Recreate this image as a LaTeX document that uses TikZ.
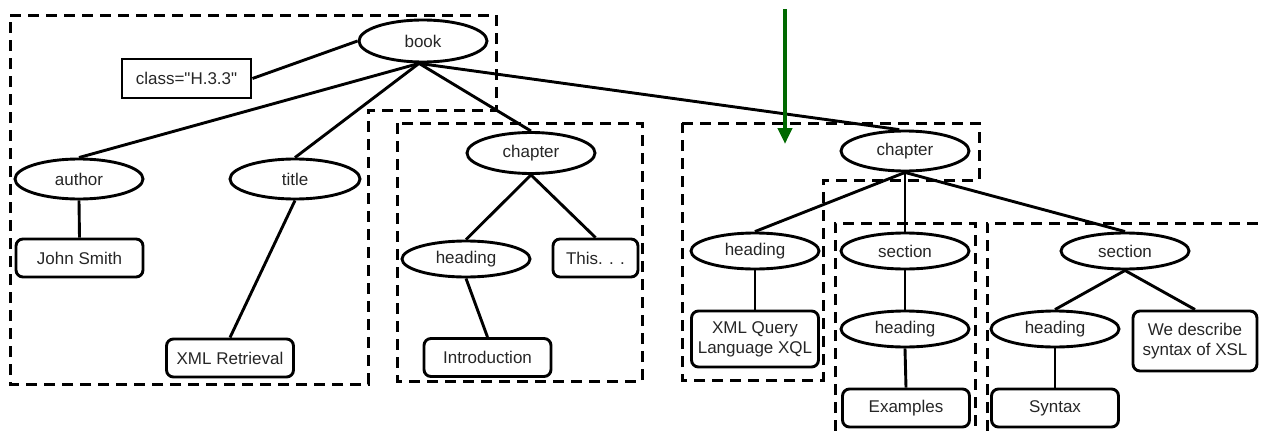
\documentclass[tikz,border=0pt]{standalone}
\usepackage{fontspec}
\setmainfont{Liberation Sans}[Ligatures=TeXOff]
\usetikzlibrary{shapes.geometric,arrows.meta}
\definecolor{arrowgreen}{RGB}{0,105,0}
\begin{document}
\begin{tikzpicture}[x=1pt,y=-1pt,
  every node/.style={font=\fontsize{17}{20}\selectfont, text=black!85, inner sep=0pt},
  elnode/.style={draw, ellipse, line width=2.9pt, minimum width=128pt, minimum height=38pt},
  leafbox/.style={draw, rounded corners=7pt, line width=2.9pt, minimum width=127pt, minimum height=38pt, align=center},
  attrbox/.style={draw, line width=2.9pt, minimum width=129pt, minimum height=39pt},
  treeline/.style={line width=2.9pt},
  zone/.style={line width=3pt, dash pattern=on 11pt off 7pt},
  greenarrow/.style={draw=arrowgreen, line width=4.5pt, -{Triangle[width=14pt,length=16pt,fill=arrowgreen]}}]
\useasboundingbox (0,0) rectangle (1261,431);

% dashed fragment regions
\draw[zone] (10,15) -- (496,15) -- (496,110) -- (368,110) -- (368,384) -- (10,384) -- cycle;
\draw[zone] (397,123) rectangle (642,381);
\draw[zone] (682,123) -- (979,123) -- (979,180) -- (823,180) -- (823,380) -- (682,380) -- cycle;
\draw[zone] (835,431) -- (835,223) -- (975,223) -- (975,431);
\draw[zone] (987,431) -- (987,223) -- (1261,223);

% book subtree
\node[elnode, minimum height=42pt] (book) at (423,41) {book};
\node[attrbox] (class) at (186.5,78.5) {class="H.3.3"};
\node[elnode, minimum height=40pt] (author) at (79,179) {author};
\node[elnode, minimum height=40pt, minimum width=130pt] (title) at (295,179) {title};
\node[leafbox] (john) at (79.5,258) {John Smith};
\node[leafbox] (xmlret) at (230,358) {XML Retrieval};

% first chapter
\node[elnode, minimum height=41pt] (chapA) at (531,153) {chapter};
\node[elnode, minimum height=36pt] (headA) at (466,259) {heading};
\node[leafbox, minimum width=85pt] (this) at (595.5,258) {This. . .};
\node[leafbox] (intro) at (487.5,357.5) {Introduction};

% second chapter
\node[elnode, minimum height=40pt] (chapB) at (905,151) {chapter};
\node[elnode, minimum height=36pt] (headB) at (755,251) {heading};
\node[leafbox, minimum height=56pt] (xql) at (755,339) {XML Query\\Language XQL};
\node[elnode, minimum height=36pt] (secB) at (905,251) {section};
\node[elnode, minimum height=36pt] (headC) at (905,329) {heading};
\node[leafbox] (examples) at (906,408) {Examples};
\node[elnode, minimum height=36pt] (secC) at (1125,251) {section};
\node[elnode, minimum height=36pt] (headD) at (1055,329) {heading};
\node[leafbox] (syntax) at (1055,408) {Syntax};
\node[leafbox, minimum width=124pt, minimum height=60pt] (xsl) at (1195,341) {We describe\\syntax of XSL};

% tree edges
\draw[treeline] (class.east) -- (book.west);
\draw[treeline] (book.260) -- (author.north);
\draw[treeline] (book.260) -- (title.north);
\draw[treeline] (book.260) -- (chapA.north);
\draw[treeline] (book.260) -- (chapB.105);
\draw[treeline] (author.south) -- (john.north);
\draw[treeline] (title.south) -- (xmlret.north);
\draw[treeline] (chapA.south) -- (headA.north);
\draw[treeline] (chapA.south) -- (this.north);
\draw[treeline] (headA.south) -- (intro.north);
\draw[treeline] (chapB.south) -- (headB.north);
\draw[treeline] (chapB.south) -- (secB.north);
\draw[treeline] (chapB.south) -- (secC.north);
\draw[treeline] (headB.south) -- (xql.north);
\draw[treeline] (secB.south) -- (headC.north);
\draw[treeline] (headC.south) -- (examples.north);
\draw[treeline] (secC.south) -- (headD.north);
\draw[treeline] (secC.south) -- (xsl.north);
\draw[treeline] (headD.south) -- (syntax.north);

% pointer onto the second chapter fragment
\coordinate (ptrtop) at (785,9);
\coordinate (ptrtip) at (785,144);
\draw[greenarrow] (ptrtop) -- (ptrtip);
\end{tikzpicture}
\end{document}
